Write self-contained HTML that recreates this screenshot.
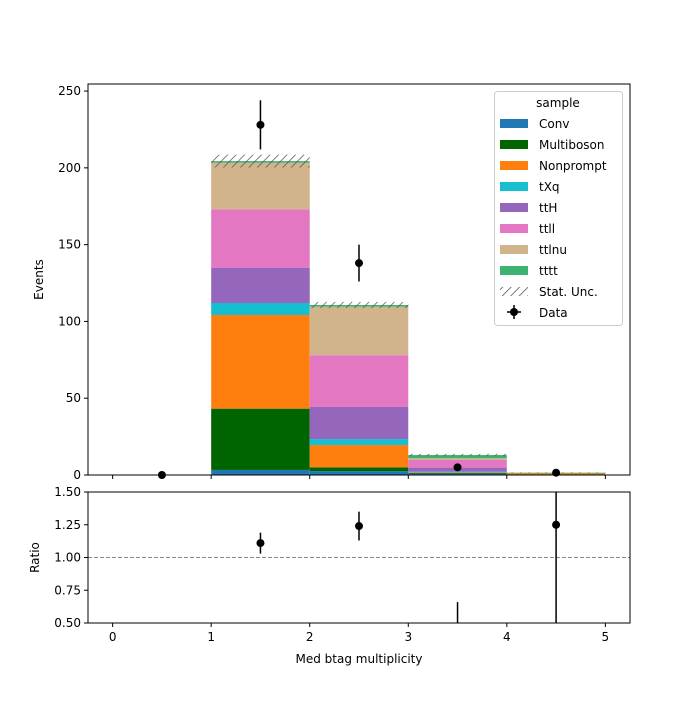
<!DOCTYPE html>
<html><head><meta charset="utf-8"><style>
body{margin:0;background:#fff}
svg{font-family:"DejaVu Sans","Liberation Sans",sans-serif}
</style></head><body>
<svg id="c" width="700" height="700" viewBox="0 0 700 700">
<defs><pattern id="hatch" patternUnits="userSpaceOnUse" width="6" height="6" patternTransform="rotate(45)"><line x1="0" y1="0" x2="0" y2="6" stroke="#555" stroke-width="1.5"/></pattern></defs>
<rect x="0" y="0" width="700" height="700" fill="#fff"/>
<g id="main"></g>
<g id="ratio"></g>
<g id="legend"></g>
</svg>
<script>
const binEdges=[0,1,2,3,4,5];
const samples=["Conv","Multiboson","Nonprompt","tXq","ttH","ttll","ttlnu","tttt"];
const colors=["#1f77b4","#006400","#ff7f0e","#17becf","#9467bd","#e377c2","#d2b48c","#3cb371"];
const conv=[0,3.3,2.5,1.0,0];
const multiboson=[0,39.9,2.5,0.3,0];
const nonprompt=[0,61,14.5,0.4,1.0];
const txq=[0,7.8,3.9,0.4,0];
const tth=[0,23,20.9,2.7,0];
const ttll=[0,38,33.7,5.0,0];
const ttlnu=[0,30.3,31.6,1.1,0];
const tttt=[0,1.1,1.1,2.1,0.5];
const statUnc=[0,4.2,2.0,0.8,0.2];
const dataVals=[0,228,138,5,1.5];
const dataErr=[0,16,12,2.2,1.2];
const ratioVals=[null,1.11,1.24,0.38,1.25];
const ratioErr=[null,0.08,0.11,0.28,1.0];
const yTicks=[0,50,100,150,200,250];
const rTicks=[0.5,0.75,1.0,1.25,1.5];
const xTicks=[0,1,2,3,4,5];

const NS="http://www.w3.org/2000/svg";
const L=88,R=630,T=84,B=475,RT=492,RB=623;
const X=v=>L+(v+0.25)/5.5*(R-L);
const Y=v=>B-v/254.6*(B-T);
const RY=v=>RB-(v-0.5)/1.0*(RB-RT);
function mk(tag,attrs,parent,text){const e=document.createElementNS(NS,tag);for(const k in attrs)e.setAttribute(k,attrs[k]);if(text!==undefined)e.textContent=text;parent.appendChild(e);return e;}
const main=document.getElementById('main'),ratio=document.getElementById('ratio'),leg=document.getElementById('legend');
const series=[conv,multiboson,nonprompt,txq,tth,ttll,ttlnu,tttt];
const totals=[0,0,0,0,0];
for(let s=0;s<series.length;s++){
  for(let i=0;i<5;i++){
    const v=series[s][i];if(v<=0)continue;
    const r=mk('rect',{x:X(binEdges[i]),y:Y(totals[i]+v),width:X(binEdges[i+1])-X(binEdges[i]),height:Y(totals[i])-Y(totals[i]+v),fill:colors[s]},main);
    
    
    totals[i]+=v;
  }
}
for(let i=0;i<5;i++){
  if(totals[i]<=0)continue;
  const u=mk('rect',{x:X(binEdges[i]),y:Y(totals[i]+statUnc[i]),width:X(binEdges[i+1])-X(binEdges[i]),height:Y(totals[i]-statUnc[i])-Y(totals[i]+statUnc[i]),fill:'url(#hatch)'},main);
  
  
}
for(let i=0;i<5;i++){
  const cx=X(binEdges[i]+0.5);
  const g=mk('g',{},main);
  
  
  if(dataErr[i]>0)mk('line',{x1:cx,x2:cx,y1:Y(dataVals[i]-dataErr[i]),y2:Y(dataVals[i]+dataErr[i]),stroke:'#000','stroke-width':1.5},g);
  mk('circle',{cx:cx,cy:Y(dataVals[i]),r:4,fill:'#000'},g);
}
// main axes frame
const f1=mk('rect',{x:L,y:T,width:R-L,height:B-T,fill:'none',stroke:'#000','stroke-width':1},main);


for(const t of yTicks){
  mk('line',{x1:L-4,x2:L,y1:Y(t),y2:Y(t),stroke:'#000'},main);
  const tx=mk('text',{x:L-7,y:Y(t)+4,'text-anchor':'end','font-size':12},main,String(t));
  
  
}
for(const t of xTicks){mk('line',{x1:X(t),x2:X(t),y1:B,y2:B+4,stroke:'#000'},main);}
const yl=mk('text',{x:43,y:(T+B)/2,'text-anchor':'middle','font-size':12,transform:`rotate(-90 43 ${(T+B)/2})`},main,'Events');


// ratio
const ref=mk('line',{x1:L,x2:R,y1:RY(1),y2:RY(1),stroke:'#888','stroke-dasharray':'4,2','stroke-width':1},ratio);


const cp=mk('clipPath',{id:'rc'},ratio);mk('rect',{x:L,y:RT,width:R-L,height:RB-RT},cp);
const rg=mk('g',{'clip-path':'url(#rc)'},ratio);
for(let i=0;i<5;i++){
  if(ratioVals[i]===null)continue;
  const cx=X(binEdges[i]+0.5);
  const g=mk('g',{},rg);
  
  
  mk('line',{x1:cx,x2:cx,y1:RY(ratioVals[i]-ratioErr[i]),y2:RY(ratioVals[i]+ratioErr[i]),stroke:'#000','stroke-width':1.5},g);
  mk('circle',{cx:cx,cy:RY(ratioVals[i]),r:4,fill:'#000'},g);
}
const f2=mk('rect',{x:L,y:RT,width:R-L,height:RB-RT,fill:'none',stroke:'#000'},ratio);


for(const t of rTicks){
  mk('line',{x1:L-4,x2:L,y1:RY(t),y2:RY(t),stroke:'#000'},ratio);
  const tx=mk('text',{x:L-7,y:RY(t)+4,'text-anchor':'end','font-size':12},ratio,t.toFixed(2));
  
  
}
for(const t of xTicks){
  mk('line',{x1:X(t),x2:X(t),y1:RB,y2:RB+4,stroke:'#000'},ratio);
  const tx=mk('text',{x:X(t),y:RB+18,'text-anchor':'middle','font-size':12},ratio,String(t));
  
  
}
const rl=mk('text',{x:39,y:(RT+RB)/2,'text-anchor':'middle','font-size':12,transform:`rotate(-90 39 ${(RT+RB)/2})`},ratio,'Ratio');


const xl=mk('text',{x:(L+R)/2,y:663,'text-anchor':'middle','font-size':12},ratio,'Med btag multiplicity');


// legend
const lb=mk('rect',{x:494.5,y:91.5,width:128,height:234,rx:3,fill:'#fff','fill-opacity':0.8,stroke:'#ccc'},leg);


mk('text',{x:558,y:107,'text-anchor':'middle','font-size':12},leg,'sample');
for(let s=0;s<samples.length;s++){
  const y=123+21*s;
  const g=mk('g',{},leg);
  
  
  mk('rect',{x:500,y:y-4,width:28,height:9,fill:colors[s]},g);
  mk('text',{x:539,y:y+5,'font-size':12},g,samples[s]);
}
let g=mk('g',{},leg);


mk('rect',{x:500,y:287,width:28,height:9,fill:'url(#hatch)'},g);
mk('text',{x:539,y:296,'font-size':12},g,'Stat. Unc.');
g=mk('g',{},leg);


mk('line',{x1:514,x2:514,y1:305,y2:319,stroke:'#000','stroke-width':1.5},g);
mk('line',{x1:507,x2:521,y1:312,y2:312,stroke:'#000','stroke-width':1.5},g);
mk('circle',{cx:514,cy:312,r:4,fill:'#000'},g);
mk('text',{x:539,y:317,'font-size':12},g,'Data');
</script>
</body></html>
